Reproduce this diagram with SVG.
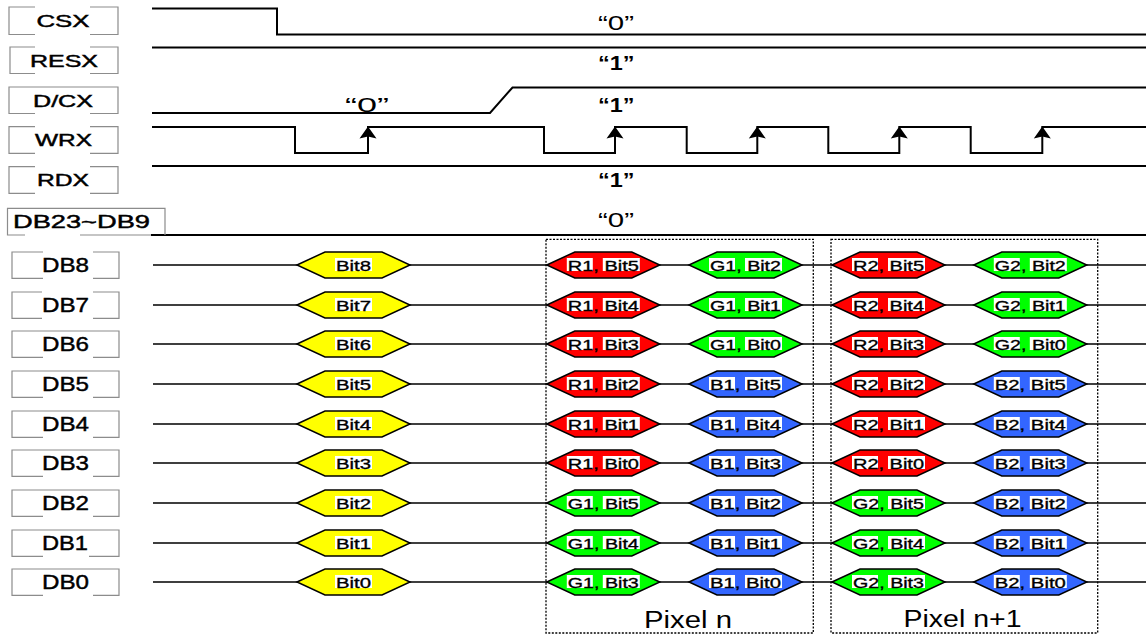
<svg xmlns="http://www.w3.org/2000/svg" xmlns:xlink="http://www.w3.org/1999/xlink" width="1146" height="634" viewBox="0 0 1146 634">
<style>
.sig{fill:none;stroke:#000;stroke-width:2}
.db{fill:none;stroke:#000;stroke-width:1.5}
.lbl{fill:none;stroke:#8c8c8c;stroke-width:1.2}
.pix{fill:none;stroke:#000;stroke-width:1.3;stroke-dasharray:2 1.5}
text{font-family:"Liberation Sans",Arial,sans-serif;fill:#000}
.tl{font-size:17px;stroke:#000;stroke-width:0.45}
.tdb{font-size:21px;stroke:#000;stroke-width:0.45}
.q{font-size:21px}
.qb{font-size:21px;font-weight:bold}
.ht{font-size:15px;stroke:#000;stroke-width:0.35}
.px{font-size:23px}
.hy{fill:#ffff00}.hr{fill:#ff0000}.hg{fill:#00ff00}.hb{fill:#3366ff}
.wb{fill:#fff}
</style>
<defs>
<polygon id="hex" points="-56.5,0 -28.5,-13 28.5,-13 56.5,0 28.5,13 -28.5,13" stroke="#000" stroke-width="1.5" stroke-linejoin="miter"/>
<g id="wb1"><rect class="wb" x="-18.5" y="-7" width="37" height="13"/></g>
<g id="wb2"><rect class="wb" x="-36.5" y="-7" width="26" height="13"/><rect class="wb" x="-0.5" y="-7" width="37" height="13"/></g>
<polygon id="arr" points="0,0 8.5,12 0,10 -8.5,12" fill="#000"/>
</defs>

<g id="connectors">
<path class="sig" d="M152,8.5 H277 V34.5 H1146"/>
<path class="sig" d="M152,47.5 H1146"/>
<path class="sig" d="M152,113 H490 L512.5,87.5 H1146"/>
<path class="sig" d="M152,127 H295 V153 H368 V127 H544 V153 H615 V127 H686.7 V153 H757.3 V127 H828.3 V153 H899.3 V127 H970.7 V153 H1042.3 V127 H1146"/>
<use href="#arr" x="368" y="126.5"/>
<use href="#arr" x="615" y="126.5"/>
<use href="#arr" x="757.3" y="126.5"/>
<use href="#arr" x="899.3" y="126.5"/>
<use href="#arr" x="1042.3" y="126.5"/>
<path class="sig" d="M152,166 H1146"/>
<path class="sig" d="M151,235 H1146"/>
<path class="db" d="M153,265 H1146 M153,305 H1146 M153,344 H1146 M153,384 H1146 M153,424 H1146 M153,463 H1146 M153,503 H1146 M153,543 H1146 M153,582 H1146"/>
</g>

<g id="levels">
<text class="q" x="598" y="30" textLength="36" lengthAdjust="spacingAndGlyphs">“0”</text>
<text class="qb" x="598" y="70" textLength="36.5" lengthAdjust="spacingAndGlyphs">“1”</text>
<text class="q" x="345" y="112" textLength="44" lengthAdjust="spacingAndGlyphs">“0”</text>
<text class="qb" x="598" y="112" textLength="36.5" lengthAdjust="spacingAndGlyphs">“1”</text>
<text class="qb" x="598" y="187" textLength="36.5" lengthAdjust="spacingAndGlyphs">“1”</text>
<text class="q" x="598" y="227" textLength="36" lengthAdjust="spacingAndGlyphs">“0”</text>
</g>

<g id="lbl-csx"><path class="lbl" d="M35,7 H9 V34.5 H35 M90,7 H118 V34.5 H90"/><text class="tl" x="36.5" y="26.7" textLength="53" lengthAdjust="spacingAndGlyphs">CSX</text></g>
<g id="lbl-resx"><path class="lbl" d="M35,47 H10 V73.5 H35 M90,47 H118 V73.5 H90"/><text class="tl" x="30" y="66.7" textLength="68" lengthAdjust="spacingAndGlyphs">RESX</text></g>
<g id="lbl-dcx"><path class="lbl" d="M35,113.5 H9 V87 H118 V113.5 H90"/><text class="tl" x="33" y="106.7" textLength="60" lengthAdjust="spacingAndGlyphs">D/CX</text></g>
<g id="lbl-wrx"><path class="lbl" d="M35,126.7 H9 V153.3 H35 M90,126.7 H118 V153.3 H90"/><text class="tl" x="35" y="146" textLength="57" lengthAdjust="spacingAndGlyphs">WRX</text></g>
<g id="lbl-rdx"><path class="lbl" d="M35,166.7 H9 V193.3 H35 M90,166.7 H118 V193.3 H90"/><text class="tl" x="37" y="186" textLength="52" lengthAdjust="spacingAndGlyphs">RDX</text></g>
<g id="lbl-db23"><path class="lbl" d="M25,235 H7.5 V208.3 H165 V235 M80,235 H151"/><text class="tl" x="13" y="228" textLength="137" lengthAdjust="spacingAndGlyphs" style="font-size:18px">DB23~DB9</text></g>

<g id="lbl-db8"><path class="lbl" d="M43,252 H12 V278.3 H43 M93,252 H119 V278.3 H93"/><text class="tdb" x="42" y="271.7" textLength="47" lengthAdjust="spacingAndGlyphs">DB8</text></g>
<g id="lbl-db7"><path class="lbl" d="M42,292 H12 V318.3 H42 M93,292 H119 V318.3 H93"/><text class="tdb" x="42" y="311.7" textLength="47" lengthAdjust="spacingAndGlyphs">DB7</text></g>
<g id="lbl-db6"><path class="lbl" d="M43,357.3 H12 V331 H119 V357.3 H93"/><text class="tdb" x="42" y="350.7" textLength="47" lengthAdjust="spacingAndGlyphs">DB6</text></g>
<g id="lbl-db5"><path class="lbl" d="M43,397.3 H12 V371 H119 V397.3 H93"/><text class="tdb" x="42" y="390.7" textLength="47" lengthAdjust="spacingAndGlyphs">DB5</text></g>
<g id="lbl-db4"><path class="lbl" d="M43,437.3 H12 V411 H119 V437.3 H93"/><text class="tdb" x="42" y="430.7" textLength="47" lengthAdjust="spacingAndGlyphs">DB4</text></g>
<g id="lbl-db3"><path class="lbl" d="M43,476.3 H12 V450 H119 V476.3 H93"/><text class="tdb" x="42" y="469.7" textLength="47" lengthAdjust="spacingAndGlyphs">DB3</text></g>
<g id="lbl-db2"><path class="lbl" d="M43,516.3 H12 V490 H119 V516.3 H93"/><text class="tdb" x="42" y="509.7" textLength="47" lengthAdjust="spacingAndGlyphs">DB2</text></g>
<g id="lbl-db1"><path class="lbl" d="M43,556.3 H12 V530 H119 V556.3 H89"/><text class="tdb" x="42" y="549.7" textLength="46" lengthAdjust="spacingAndGlyphs">DB1</text></g>
<g id="lbl-db0"><path class="lbl" d="M43,595.3 H12 V569 H119 V595.3 H93"/><text class="tdb" x="42" y="588.7" textLength="47" lengthAdjust="spacingAndGlyphs">DB0</text></g>

<g id="pixel-n"><rect class="pix" x="546" y="239.3" width="267.3" height="393.7"/><text class="px" x="644" y="628" textLength="88" lengthAdjust="spacingAndGlyphs">Pixel n</text></g>
<g id="pixel-n1"><rect class="pix" x="831" y="239.3" width="266.7" height="393.7"/><text class="px" x="903.5" y="627" textLength="118" lengthAdjust="spacingAndGlyphs">Pixel n+1</text></g>

<!-- DB8 -->
<g id="db8-y"><use href="#hex" x="353.5" y="265" class="hy"/><use href="#wb1" x="353.5" y="265"/><text class="ht" x="336" y="270.5" textLength="35" lengthAdjust="spacingAndGlyphs">Bit8</text></g>
<g id="db8-p1a"><use href="#hex" x="603.3" y="265" class="hr"/><use href="#wb2" x="603.3" y="265"/><text class="ht" x="567.8" y="270.5" textLength="71" lengthAdjust="spacingAndGlyphs">R1, Bit5</text></g>
<g id="db8-p1b"><use href="#hex" x="745.5" y="265" class="hg"/><use href="#wb2" x="745.5" y="265"/><text class="ht" x="710" y="270.5" textLength="71" lengthAdjust="spacingAndGlyphs">G1, Bit2</text></g>
<g id="db8-p2a"><use href="#hex" x="888.5" y="265" class="hr"/><use href="#wb2" x="888.5" y="265"/><text class="ht" x="853" y="270.5" textLength="71" lengthAdjust="spacingAndGlyphs">R2, Bit5</text></g>
<g id="db8-p2b"><use href="#hex" x="1030.3" y="265" class="hg"/><use href="#wb2" x="1030.3" y="265"/><text class="ht" x="994.8" y="270.5" textLength="71" lengthAdjust="spacingAndGlyphs">G2, Bit2</text></g>
<!-- DB7 -->
<g id="db7-y"><use href="#hex" x="353.5" y="305" class="hy"/><use href="#wb1" x="353.5" y="305"/><text class="ht" x="336" y="310.5" textLength="35" lengthAdjust="spacingAndGlyphs">Bit7</text></g>
<g id="db7-p1a"><use href="#hex" x="603.3" y="305" class="hr"/><use href="#wb2" x="603.3" y="305"/><text class="ht" x="567.8" y="310.5" textLength="71" lengthAdjust="spacingAndGlyphs">R1, Bit4</text></g>
<g id="db7-p1b"><use href="#hex" x="745.5" y="305" class="hg"/><use href="#wb2" x="745.5" y="305"/><text class="ht" x="710" y="310.5" textLength="71" lengthAdjust="spacingAndGlyphs">G1, Bit1</text></g>
<g id="db7-p2a"><use href="#hex" x="888.5" y="305" class="hr"/><use href="#wb2" x="888.5" y="305"/><text class="ht" x="853" y="310.5" textLength="71" lengthAdjust="spacingAndGlyphs">R2, Bit4</text></g>
<g id="db7-p2b"><use href="#hex" x="1030.3" y="305" class="hg"/><use href="#wb2" x="1030.3" y="305"/><text class="ht" x="994.8" y="310.5" textLength="71" lengthAdjust="spacingAndGlyphs">G2, Bit1</text></g>
<!-- DB6 -->
<g id="db6-y"><use href="#hex" x="353.5" y="344" class="hy"/><use href="#wb1" x="353.5" y="344"/><text class="ht" x="336" y="349.5" textLength="35" lengthAdjust="spacingAndGlyphs">Bit6</text></g>
<g id="db6-p1a"><use href="#hex" x="603.3" y="344" class="hr"/><use href="#wb2" x="603.3" y="344"/><text class="ht" x="567.8" y="349.5" textLength="71" lengthAdjust="spacingAndGlyphs">R1, Bit3</text></g>
<g id="db6-p1b"><use href="#hex" x="745.5" y="344" class="hg"/><use href="#wb2" x="745.5" y="344"/><text class="ht" x="710" y="349.5" textLength="71" lengthAdjust="spacingAndGlyphs">G1, Bit0</text></g>
<g id="db6-p2a"><use href="#hex" x="888.5" y="344" class="hr"/><use href="#wb2" x="888.5" y="344"/><text class="ht" x="853" y="349.5" textLength="71" lengthAdjust="spacingAndGlyphs">R2, Bit3</text></g>
<g id="db6-p2b"><use href="#hex" x="1030.3" y="344" class="hg"/><use href="#wb2" x="1030.3" y="344"/><text class="ht" x="994.8" y="349.5" textLength="71" lengthAdjust="spacingAndGlyphs">G2, Bit0</text></g>
<!-- DB5 -->
<g id="db5-y"><use href="#hex" x="353.5" y="384" class="hy"/><use href="#wb1" x="353.5" y="384"/><text class="ht" x="336" y="389.5" textLength="35" lengthAdjust="spacingAndGlyphs">Bit5</text></g>
<g id="db5-p1a"><use href="#hex" x="603.3" y="384" class="hr"/><use href="#wb2" x="603.3" y="384"/><text class="ht" x="567.8" y="389.5" textLength="71" lengthAdjust="spacingAndGlyphs">R1, Bit2</text></g>
<g id="db5-p1b"><use href="#hex" x="745.5" y="384" class="hb"/><use href="#wb2" x="745.5" y="384"/><text class="ht" x="710" y="389.5" textLength="71" lengthAdjust="spacingAndGlyphs">B1, Bit5</text></g>
<g id="db5-p2a"><use href="#hex" x="888.5" y="384" class="hr"/><use href="#wb2" x="888.5" y="384"/><text class="ht" x="853" y="389.5" textLength="71" lengthAdjust="spacingAndGlyphs">R2, Bit2</text></g>
<g id="db5-p2b"><use href="#hex" x="1030.3" y="384" class="hb"/><use href="#wb2" x="1030.3" y="384"/><text class="ht" x="994.8" y="389.5" textLength="71" lengthAdjust="spacingAndGlyphs">B2, Bit5</text></g>
<!-- DB4 -->
<g id="db4-y"><use href="#hex" x="353.5" y="424" class="hy"/><use href="#wb1" x="353.5" y="424"/><text class="ht" x="336" y="429.5" textLength="35" lengthAdjust="spacingAndGlyphs">Bit4</text></g>
<g id="db4-p1a"><use href="#hex" x="603.3" y="424" class="hr"/><use href="#wb2" x="603.3" y="424"/><text class="ht" x="567.8" y="429.5" textLength="71" lengthAdjust="spacingAndGlyphs">R1, Bit1</text></g>
<g id="db4-p1b"><use href="#hex" x="745.5" y="424" class="hb"/><use href="#wb2" x="745.5" y="424"/><text class="ht" x="710" y="429.5" textLength="71" lengthAdjust="spacingAndGlyphs">B1, Bit4</text></g>
<g id="db4-p2a"><use href="#hex" x="888.5" y="424" class="hr"/><use href="#wb2" x="888.5" y="424"/><text class="ht" x="853" y="429.5" textLength="71" lengthAdjust="spacingAndGlyphs">R2, Bit1</text></g>
<g id="db4-p2b"><use href="#hex" x="1030.3" y="424" class="hb"/><use href="#wb2" x="1030.3" y="424"/><text class="ht" x="994.8" y="429.5" textLength="71" lengthAdjust="spacingAndGlyphs">B2, Bit4</text></g>
<!-- DB3 -->
<g id="db3-y"><use href="#hex" x="353.5" y="463" class="hy"/><use href="#wb1" x="353.5" y="463"/><text class="ht" x="336" y="468.5" textLength="35" lengthAdjust="spacingAndGlyphs">Bit3</text></g>
<g id="db3-p1a"><use href="#hex" x="603.3" y="463" class="hr"/><use href="#wb2" x="603.3" y="463"/><text class="ht" x="567.8" y="468.5" textLength="71" lengthAdjust="spacingAndGlyphs">R1, Bit0</text></g>
<g id="db3-p1b"><use href="#hex" x="745.5" y="463" class="hb"/><use href="#wb2" x="745.5" y="463"/><text class="ht" x="710" y="468.5" textLength="71" lengthAdjust="spacingAndGlyphs">B1, Bit3</text></g>
<g id="db3-p2a"><use href="#hex" x="888.5" y="463" class="hr"/><use href="#wb2" x="888.5" y="463"/><text class="ht" x="853" y="468.5" textLength="71" lengthAdjust="spacingAndGlyphs">R2, Bit0</text></g>
<g id="db3-p2b"><use href="#hex" x="1030.3" y="463" class="hb"/><use href="#wb2" x="1030.3" y="463"/><text class="ht" x="994.8" y="468.5" textLength="71" lengthAdjust="spacingAndGlyphs">B2, Bit3</text></g>
<!-- DB2 -->
<g id="db2-y"><use href="#hex" x="353.5" y="503" class="hy"/><use href="#wb1" x="353.5" y="503"/><text class="ht" x="336" y="508.5" textLength="35" lengthAdjust="spacingAndGlyphs">Bit2</text></g>
<g id="db2-p1a"><use href="#hex" x="603.3" y="503" class="hg"/><use href="#wb2" x="603.3" y="503"/><text class="ht" x="567.8" y="508.5" textLength="71" lengthAdjust="spacingAndGlyphs">G1, Bit5</text></g>
<g id="db2-p1b"><use href="#hex" x="745.5" y="503" class="hb"/><use href="#wb2" x="745.5" y="503"/><text class="ht" x="710" y="508.5" textLength="71" lengthAdjust="spacingAndGlyphs">B1, Bit2</text></g>
<g id="db2-p2a"><use href="#hex" x="888.5" y="503" class="hg"/><use href="#wb2" x="888.5" y="503"/><text class="ht" x="853" y="508.5" textLength="71" lengthAdjust="spacingAndGlyphs">G2, Bit5</text></g>
<g id="db2-p2b"><use href="#hex" x="1030.3" y="503" class="hb"/><use href="#wb2" x="1030.3" y="503"/><text class="ht" x="994.8" y="508.5" textLength="71" lengthAdjust="spacingAndGlyphs">B2, Bit2</text></g>
<!-- DB1 -->
<g id="db1-y"><use href="#hex" x="353.5" y="543" class="hy"/><use href="#wb1" x="353.5" y="543"/><text class="ht" x="336" y="548.5" textLength="35" lengthAdjust="spacingAndGlyphs">Bit1</text></g>
<g id="db1-p1a"><use href="#hex" x="603.3" y="543" class="hg"/><use href="#wb2" x="603.3" y="543"/><text class="ht" x="567.8" y="548.5" textLength="71" lengthAdjust="spacingAndGlyphs">G1, Bit4</text></g>
<g id="db1-p1b"><use href="#hex" x="745.5" y="543" class="hb"/><use href="#wb2" x="745.5" y="543"/><text class="ht" x="710" y="548.5" textLength="71" lengthAdjust="spacingAndGlyphs">B1, Bit1</text></g>
<g id="db1-p2a"><use href="#hex" x="888.5" y="543" class="hg"/><use href="#wb2" x="888.5" y="543"/><text class="ht" x="853" y="548.5" textLength="71" lengthAdjust="spacingAndGlyphs">G2, Bit4</text></g>
<g id="db1-p2b"><use href="#hex" x="1030.3" y="543" class="hb"/><use href="#wb2" x="1030.3" y="543"/><text class="ht" x="994.8" y="548.5" textLength="71" lengthAdjust="spacingAndGlyphs">B2, Bit1</text></g>
<!-- DB0 -->
<g id="db0-y"><use href="#hex" x="353.5" y="582" class="hy"/><use href="#wb1" x="353.5" y="582"/><text class="ht" x="336" y="587.5" textLength="35" lengthAdjust="spacingAndGlyphs">Bit0</text></g>
<g id="db0-p1a"><use href="#hex" x="603.3" y="582" class="hg"/><use href="#wb2" x="603.3" y="582"/><text class="ht" x="567.8" y="587.5" textLength="71" lengthAdjust="spacingAndGlyphs">G1, Bit3</text></g>
<g id="db0-p1b"><use href="#hex" x="745.5" y="582" class="hb"/><use href="#wb2" x="745.5" y="582"/><text class="ht" x="710" y="587.5" textLength="71" lengthAdjust="spacingAndGlyphs">B1, Bit0</text></g>
<g id="db0-p2a"><use href="#hex" x="888.5" y="582" class="hg"/><use href="#wb2" x="888.5" y="582"/><text class="ht" x="853" y="587.5" textLength="71" lengthAdjust="spacingAndGlyphs">G2, Bit3</text></g>
<g id="db0-p2b"><use href="#hex" x="1030.3" y="582" class="hb"/><use href="#wb2" x="1030.3" y="582"/><text class="ht" x="994.8" y="587.5" textLength="71" lengthAdjust="spacingAndGlyphs">B2, Bit0</text></g>
</svg>
